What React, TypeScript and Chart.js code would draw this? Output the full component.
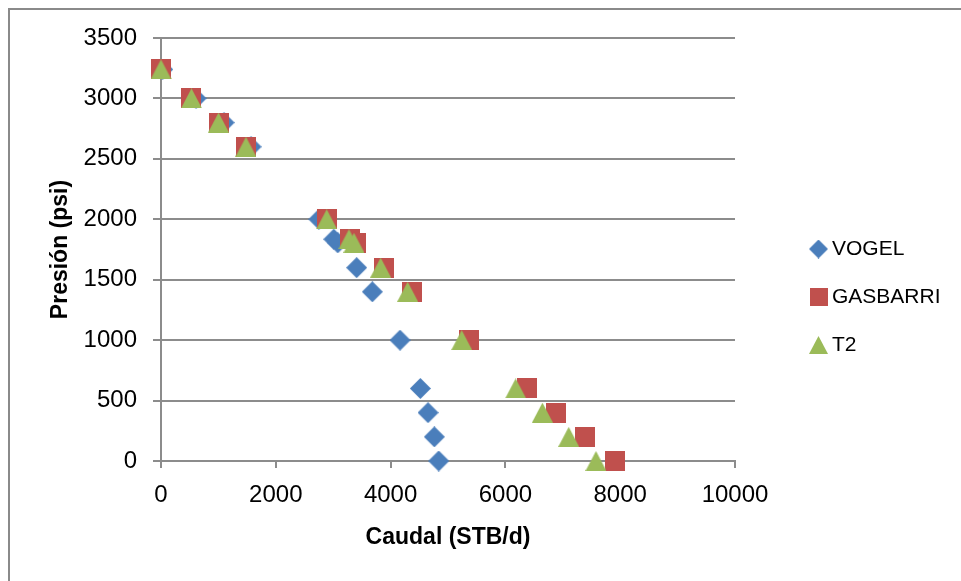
import { useEffect, useRef } from "react";
import { Chart, registerables } from "chart.js";

Chart.register(...registerables);

// Well inflow performance: pressure vs. rate for three IPR methods
const PRESSURE_PSI = [3240, 3000, 2800, 2600, 2000, 1835, 1805, 1600, 1400, 1000, 600, 400, 200, 0];
const VOGEL_Q = [30, 610, 1098, 1568, 2750, 3010, 3080, 3409, 3682, 4164, 4518, 4652, 4762, 4838];
const GASBARRI_Q = [0, 531, 1002, 1480, 2892, 3293, 3389, 3880, 4373, 5366, 6371, 6876, 7387, 7909];
const T2_Q = [0, 531, 1002, 1480, 2887, 3275, 3362, 3827, 4297, 5239, 6179, 6645, 7103, 7578];

const SERIES_NAMES = ["VOGEL", "GASBARRI", "T2"];
const X_TICKS = [0, 2000, 4000, 6000, 8000, 10000];
const Y_TICKS = [0, 500, 1000, 1500, 2000, 2500, 3000, 3500];
const X_TITLE = "Caudal (STB/d)";
const Y_TITLE = "Presión (psi)";

const FONT = "'Liberation Sans', Arial, sans-serif";
const GRID = "#8c8c8c";
const COLORS = ["#4a7ebb", "#c0504d", "#9bbb59"];

type MarkerKind = "diamond" | "square" | "triangle";

function makeMarker(kind: MarkerKind, color: string, scale = 1): HTMLCanvasElement {
  const w = Math.round((kind === "square" ? 20 : 21) * scale);
  const h = Math.round((kind === "diamond" ? 21 : 20) * scale);
  const c = document.createElement("canvas");
  c.width = w;
  c.height = h;
  const g = c.getContext("2d")!;
  g.fillStyle = color;
  g.beginPath();
  if (kind === "diamond") {
    g.moveTo(w / 2, 0);
    g.lineTo(w, h / 2);
    g.lineTo(w / 2, h);
    g.lineTo(0, h / 2);
  } else if (kind === "square") {
    g.rect(0, 0, w, h);
  } else {
    g.moveTo(w / 2, 0);
    g.lineTo(w, h);
    g.lineTo(0, h);
  }
  g.closePath();
  g.fill();
  return c;
}

const sideLegend = {
  id: "sideLegend",
  afterDraw(chart: any) {
    const ctx: CanvasRenderingContext2D = chart.ctx;
    ctx.save();
    ctx.font = `21px ${FONT}`;
    ctx.textBaseline = "middle";
    ctx.textAlign = "left";
    ctx.fillStyle = "#000";
    chart.data.datasets.forEach((ds: any, i: number) => {
      const cy = 249 + i * 48;
      const img: HTMLCanvasElement = ds.legendMarker;
      ctx.drawImage(img, 818.5 - img.width / 2, cy - img.height / 2);
      ctx.fillText(ds.label, 832, cy);
    });
    ctx.restore();
  },
};

export default function App() {
  const ref = useRef<HTMLCanvasElement | null>(null);

  useEffect(() => {
    if (!ref.current) return;
    const kinds: MarkerKind[] = ["diamond", "square", "triangle"];
    const series = [VOGEL_Q, GASBARRI_Q, T2_Q];

    const datasets = series.map((qs, i) => ({
      label: SERIES_NAMES[i],
      data: qs.map((q, k) => ({ x: q, y: PRESSURE_PSI[k] })),
      pointStyle: makeMarker(kinds[i], COLORS[i]),
      legendMarker: makeMarker(kinds[i], COLORS[i], 0.9),
      pointRadius: 10,
      pointHoverRadius: 10,
      backgroundColor: COLORS[i],
      borderColor: COLORS[i],
      showLine: false,
      clip: false as const,
      order: 3 - i,
    }));

    const tickFont = { family: FONT, size: 24 };
    const titleFont = { family: FONT, size: 23, weight: "bold" as const };
    const plain = (v: string | number) => String(v);

    const chart = new Chart(ref.current, {
      type: "scatter",
      data: { datasets: datasets as any },
      plugins: [sideLegend],
      options: {
        responsive: false,
        animation: false,
        events: [],
        layout: { padding: { left: 0, top: 38, right: 226, bottom: 0 } },
        plugins: {
          legend: { display: false },
          tooltip: { enabled: false },
        },
        scales: {
          x: {
            type: "linear",
            min: 0,
            max: 10000,
            afterBuildTicks: (s: any) => {
              s.ticks = X_TICKS.map((v) => ({ value: v }));
            },
            afterFit: (s: any) => {
              s.height = 120;
            },
            grid: { drawOnChartArea: false, drawTicks: true, tickLength: 7, color: GRID, lineWidth: 2 },
            border: { display: true, color: GRID, width: 2 },
            ticks: { color: "#000", font: tickFont, padding: 13, maxRotation: 0, autoSkip: false, callback: plain },
            title: {
              display: true,
              text: X_TITLE,
              color: "#000",
              font: titleFont,
              padding: { top: 0, bottom: 30 },
            },
          },
          y: {
            type: "linear",
            min: 0,
            max: 3500,
            afterBuildTicks: (s: any) => {
              s.ticks = Y_TICKS.map((v) => ({ value: v }));
            },
            afterFit: (s: any) => {
              s.width = 161;
            },
            grid: { color: GRID, lineWidth: 2, tickLength: 8 },
            border: { display: true, color: GRID, width: 2 },
            ticks: { color: "#000", font: tickFont, padding: 16, autoSkip: false, callback: plain },
            title: {
              display: true,
              text: Y_TITLE,
              color: "#000",
              font: titleFont,
              padding: { top: 47, bottom: 0 },
            },
          },
        },
      },
    });
    return () => chart.destroy();
  }, []);

  return (
    <div
      style={{
        position: "fixed",
        left: 0,
        top: 0,
        width: 961,
        height: 581,
        overflow: "hidden",
        background: "#fff",
      }}
    >
      <div
        style={{
          position: "absolute",
          left: 8,
          top: 8,
          width: 1100,
          height: 700,
          borderLeft: "2px solid #8a8a8a",
          borderTop: "2px solid #8a8a8a",
        }}
      />
      <canvas
        ref={ref}
        width={961}
        height={581}
        style={{ position: "absolute", left: 0, top: 0 }}
      />
    </div>
  );
}
